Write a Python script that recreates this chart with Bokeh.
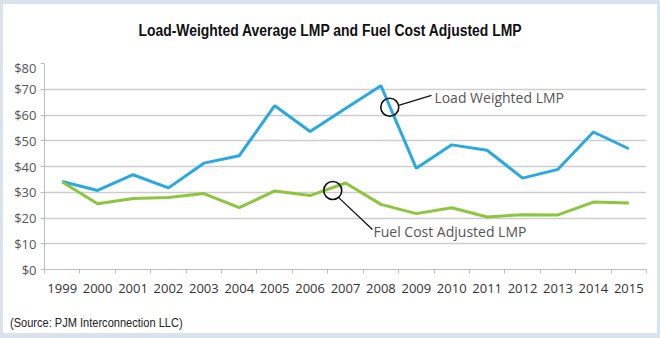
import numpy as np
from bokeh.plotting import figure
from bokeh.layouts import column
from bokeh.models import (Range1d, FixedTicker, Label, NumeralTickFormatter, Div)
from bokeh.embed import file_html
from bokeh.resources import INLINE

# ---- data ----
years = ["1999", "2000", "2001", "2002", "2003", "2004", "2005", "2006", "2007",
         "2008", "2009", "2010", "2011", "2012", "2013", "2014", "2015"]
load_weighted = [34.2, 30.7, 36.8, 31.7, 41.3, 44.2, 63.6, 53.6, 62.5,
                 71.4, 39.3, 48.4, 46.3, 35.5, 38.9, 53.4, 46.9]
fuel_adjusted = [34.0, 25.5, 27.6, 28.0, 29.5, 24.0, 30.5, 28.7, 33.6,
                 25.3, 21.7, 24.0, 20.4, 21.3, 21.2, 26.2, 25.8]
y_ticks = [0, 10, 20, 30, 40, 50, 60, 70, 80]

title_text = "Load-Weighted Average LMP and Fuel Cost Adjusted LMP"
source_text = "(Source: PJM Interconnection LLC)"
label_load = "Load Weighted LMP"
label_fuel = "Fuel Cost Adjusted LMP"

# annotation anchor positions (data units)
circle_load = (9.75, 63.0)
leader_load = ([10.0, 10.93], [63.7, 67.6])
text_load = (11.01, 66.9)
circle_fuel = (8.14, 30.7)
leader_fuel = ([8.30, 9.26], [28.0, 15.5])
text_fuel = (9.29, 14.8)

BLUE = "#29a9e0"
GREEN = "#8cc63e"
GRID = "#cdcdcd"
AXIS = "#bdbdbd"
FONT = "Open Sans"
NARROW = "'Liberation Sans Narrow', 'Liberation Sans', Arial, sans-serif"

n = len(years)
xc = np.arange(n) + 0.5

p = figure(width=654, height=255, output_backend="svg", toolbar_location=None,
           x_range=Range1d(0, n), y_range=Range1d(0, 80),
           min_border_left=41, min_border_right=11, min_border_top=5,
           min_border_bottom=44, margin=0)
p.title = None
p.outline_line_color = None
p.background_fill_color = "white"
p.border_fill_color = "white"

# grid
p.xgrid.grid_line_color = None
p.ygrid.grid_line_color = GRID
p.ygrid.grid_line_width = 1.5
p.ygrid.ticker = FixedTicker(ticks=y_ticks)

# y axis
p.yaxis.ticker = FixedTicker(ticks=y_ticks)
p.yaxis.formatter = NumeralTickFormatter(format="$0")
p.yaxis.axis_line_color = AXIS
p.yaxis.major_tick_line_color = AXIS
p.yaxis.major_tick_in = 0
p.yaxis.major_tick_out = 4
p.yaxis.minor_tick_line_color = None
p.yaxis.major_label_text_font = FONT
p.yaxis.major_label_text_font_size = "13px"
p.yaxis.major_label_text_color = "#555555"
p.yaxis.major_label_standoff = 4

# x axis: labels at centers, ticks at boundaries
p.xaxis.ticker = FixedTicker(ticks=list(xc), minor_ticks=list(range(n + 1)))
p.xaxis.major_label_overrides = {float(x): y for x, y in zip(xc, years)}
p.xaxis.axis_line_color = AXIS
p.xaxis.major_tick_line_color = None
p.xaxis.major_tick_in = 0
p.xaxis.major_tick_out = 0
p.xaxis.minor_tick_line_color = AXIS
p.xaxis.minor_tick_in = 0
p.xaxis.minor_tick_out = 4
p.xaxis.major_label_text_font = FONT
p.xaxis.major_label_text_font_size = "13px"
p.xaxis.major_label_text_color = "#333333"
p.xaxis.major_label_standoff = 10

# series
p.line(xc, load_weighted, line_color=BLUE, line_width=3)
p.line(xc, fuel_adjusted, line_color=GREEN, line_width=3)

# annotations
for (cx, cy), (lx, ly), (tx, ty), txt in [
        (circle_load, leader_load, text_load, label_load),
        (circle_fuel, leader_fuel, text_fuel, label_fuel)]:
    p.scatter([cx], [cy], marker="circle", size=18, fill_color=None,
              line_color="#111111", line_width=1.6)
    p.line(lx, ly, line_color="#111111", line_width=1.3)
    p.add_layout(Label(x=tx, y=ty, text=txt, text_font=FONT,
                       text_font_size="14px", text_color="#555555",
                       text_baseline="middle", text_align="left"))

title_div = Div(text=title_text, width=654, height=54, margin=0,
                styles={"font-family": NARROW, "font-weight": "bold",
                        "font-size": "16px", "color": "#111111",
                        "text-align": "center", "line-height": "54px",
                        "transform": "scaleX(0.87)",
                        "transform-origin": "50% 50%"})
source_div = Div(text=source_text, width=647, height=20, margin=(0, 0, 0, 7),
                 styles={"font-family": NARROW, "font-size": "13px",
                         "color": "#222222", "line-height": "20px",
                         "transform": "scaleX(0.85)",
                         "transform-origin": "0% 50%"})

layout = column(title_div, p, source_div, spacing=0, margin=0,
                styles={"border-style": "solid", "border-color": "#d9e2ed",
                        "border-width": "4px 3px 5px 3px",
                        "background-color": "white"})

open("out.html", "w").write(file_html(layout, INLINE))
